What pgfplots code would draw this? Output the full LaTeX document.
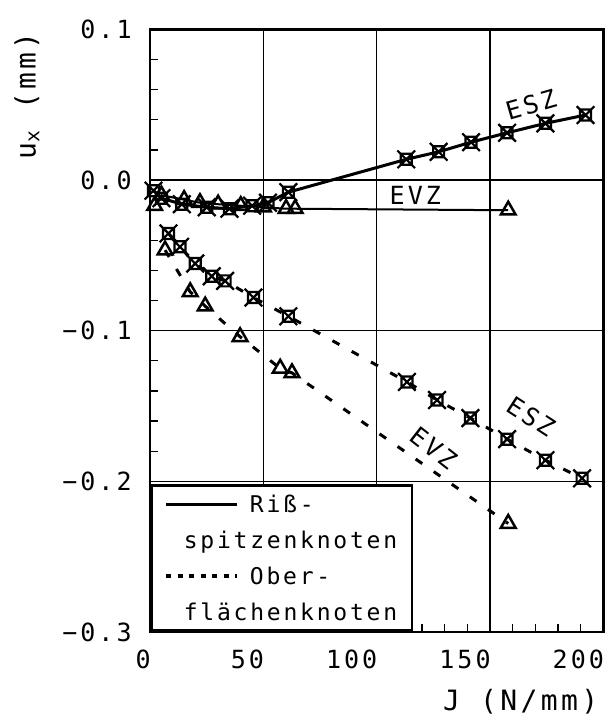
\documentclass[border=0pt]{standalone}
\usepackage{fontspec}
\setmainfont{DejaVu Sans Mono}[LetterSpace=12]
\usepackage{pgfplots}
\pgfplotsset{compat=1.18}

\pgfdeclareplotmark{sqx}{%
  \pgfpathrectangle{\pgfpoint{-\pgfplotmarksize}{-\pgfplotmarksize}}{\pgfpoint{2\pgfplotmarksize}{2\pgfplotmarksize}}%
  \pgfpathmoveto{\pgfpoint{-1.6\pgfplotmarksize}{-1.6\pgfplotmarksize}}%
  \pgfpathlineto{\pgfpoint{1.6\pgfplotmarksize}{1.6\pgfplotmarksize}}%
  \pgfpathmoveto{\pgfpoint{-1.6\pgfplotmarksize}{1.6\pgfplotmarksize}}%
  \pgfpathlineto{\pgfpoint{1.6\pgfplotmarksize}{-1.6\pgfplotmarksize}}%
  \pgfusepathqstroke}

\begin{document}
\begin{tikzpicture}[font=\fontsize{25bp}{29bp}\selectfont]
\begin{axis}[
  name=ax,
  scale only axis, width=453bp, height=602bp,
  xmin=0, xmax=200, ymin=-0.3, ymax=0.1,
  xtick={0,50,100,150,200},
  xticklabels={0,50,100,150,200},
  ytick={-0.3,-0.2,-0.1,0,0.1},
  yticklabels={−0.3,−0.2,−0.1,0.0,0.1},
  minor x tick num=4, minor y tick num=4,
  tick pos=left, tick align=inside,
  major tick length=8bp, minor tick length=8bp,
  every tick/.style={line width=1.2bp, black},
  grid=major, grid style={line width=1.2bp, black},
  axis line style={line width=2.5bp},
  tick label style={font=\fontsize{25bp}{29bp}\selectfont},
  xticklabel style={anchor=north east, xshift=4bp, yshift=-14bp},
  yticklabel style={anchor=east, xshift=-15bp},
  xlabel={J (N/mm)},
  xlabel style={at={(axis description cs:1,0)}, anchor=east, inner sep=1bp, xshift=-4bp, yshift=-70bp, font=\fontsize{28bp}{32bp}\selectfont},
  ylabel={u\textsubscript{x} (mm)},
  ylabel style={at={(axis description cs:-0.272,0.89)}, anchor=center, font=\fontsize{28bp}{32bp}\selectfont},
  legend style={at={(axis cs:0,-0.3)}, anchor=south west, draw=black, line width=2.5bp, fill=white,
    inner xsep=13bp, inner ysep=5bp, row sep=9bp, column sep=9bp,
    nodes={inner ysep=4bp},
    font=\fontsize{23bp}{27bp}\selectfont},
  legend cell align=left,
  legend image code/.code={\draw[#1] (0bp,0bp) -- (71bp,0bp);},
]
\draw[line width=2.6bp] (axis cs:0,0) -- (axis cs:200,0);
% Rissspitzenknoten ESZ (solid, squares)
\addplot[black, line width=3bp, mark=sqx, mark size=5.5bp, mark options={line width=2.2bp}, forget plot]
  coordinates {(1.5,-0.007) (5,-0.012) (14,-0.016) (25,-0.018) (35,-0.019) (45,-0.017) (52,-0.015) (61,-0.008)
  (113,0.0138) (127.3,0.0188) (141.6,0.0252) (157.5,0.0314) (174.4,0.0377) (192.1,0.0432)};
% Rissspitzenknoten EVZ (solid, triangles)
\addplot[black, line width=2bp, mark=triangle, mark size=8.5bp, mark options={line width=2.5bp}, forget plot]
  coordinates {(2,-0.017) (5,-0.010) (15,-0.013) (22,-0.015) (30,-0.016) (40,-0.017) (50,-0.018) (60,-0.019) (64,-0.019) (158,-0.020)};
% Oberflaechenknoten ESZ (dashed, squares)
\addplot[black, line width=3bp, dash pattern=on 8bp off 14bp, mark=sqx, mark size=5.5bp, mark options={line width=2.2bp, solid}, forget plot]
  coordinates {(8.1,-0.0354) (13.2,-0.0443) (19.9,-0.0554) (27.2,-0.0638) (33.1,-0.0669) (45.6,-0.078) (61,-0.0904)
  (113.3,-0.134) (126.6,-0.146) (141.3,-0.158) (157.5,-0.172) (174.4,-0.186) (190.6,-0.198)};
% Oberflaechenknoten EVZ (dashed, triangles)
\addplot[black, line width=3bp, dash pattern=on 8bp off 14bp, mark=triangle, mark size=8.5bp, mark options={line width=2.5bp, solid}, forget plot]
  coordinates {(6.6,-0.0465) (17.7,-0.0742) (24.3,-0.0837) (39.7,-0.104) (57.4,-0.125) (62.6,-0.128) (158,-0.228)};

\addlegendimage{black, line width=3bp}
\addlegendentry{Riß-}
\addlegendimage{empty legend}
\addlegendentry{\hspace*{-66bp}spitzenknoten}
\addlegendimage{black, line width=3.5bp, dash pattern=on 5bp off 6.5bp}
\addlegendentry{Ober-}
\addlegendimage{empty legend}
\addlegendentry{\hspace*{-66bp}flächenknoten}

\node[rotate=16] at (axis cs:168,0.050) {ESZ};
\node at (axis cs:117,-0.010) {EVZ};
\node[rotate=-33] at (axis cs:168,-0.157) {ESZ};
\node[rotate=-38] at (axis cs:125,-0.178) {EVZ};
\end{axis}
\pgfresetboundingbox
\path[use as bounding box] ([xshift=-150bp,yshift=-88bp]ax.south west) rectangle ([xshift=9bp,yshift=29.5bp]ax.north east);
\end{tikzpicture}
\end{document}
